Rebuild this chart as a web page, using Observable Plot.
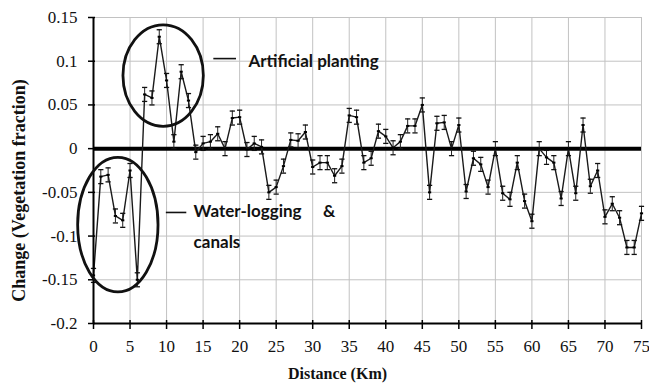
<!DOCTYPE html>
<html>
<head>
<meta charset="utf-8">
<script src="https://cdn.jsdelivr.net/npm/d3@7"></script>
<script src="https://cdn.jsdelivr.net/npm/@observablehq/plot@0.6"></script>
<style>
  body { margin: 0; background: #fff; }
  svg { display: block; }
</style>
</head>
<body>
<div id="chart"></div>
<script>
// Distance along the transect (km) and change in vegetation fraction at each station
const distanceKm = [
  0, 1, 2, 3, 4, 5, 6, 7, 8, 9, 10, 11, 12, 13, 14, 15, 16, 17, 18, 19,
  20, 21, 22, 23, 24, 25, 26, 27, 28, 29, 30, 31, 32, 33, 34, 35, 36, 37, 38, 39,
  40, 41, 42, 43, 44, 45, 46, 47, 48, 49, 50, 51, 52, 53, 54, 55, 56, 57, 58, 59,
  60, 61, 62, 63, 64, 65, 66, 67, 68, 69, 70, 71, 72, 73, 74, 75
];
const vegetationChange = [
  -0.145, -0.032, -0.030, -0.077, -0.082, -0.025, -0.150, 0.062, 0.058, 0.128,
  0.078, 0.008, 0.088, 0.055, -0.004, 0.006, 0.008, 0.017, 0.000, 0.035,
  0.036, -0.001, 0.006, 0.002, -0.050, -0.044, -0.020, 0.010, 0.009, 0.019,
  -0.021, -0.016, -0.016, -0.031, -0.020, 0.038, 0.036, -0.016, -0.011, 0.020,
  0.014, 0.001, 0.008, 0.026, 0.026, 0.050, -0.050, 0.029, 0.030, 0.000,
  0.027, -0.049, -0.011, -0.018, -0.044, 0.000, -0.051, -0.058, -0.016, -0.060,
  -0.083, 0.000, -0.010, -0.016, -0.057, 0.000, -0.051, 0.027, -0.043, -0.025,
  -0.078, -0.063, -0.079, -0.113, -0.113, -0.074
];
// half-length of the error bars (vegetation fraction)
const errorHalf = 0.008;

// Axis ticks
const xTicks = [0, 5, 10, 15, 20, 25, 30, 35, 40, 45, 50, 55, 60, 65, 70, 75];
const yTicks = [-0.2, -0.15, -0.1, -0.05, 0, 0.05, 0.1, 0.15];
const yTickLabels = ["-0.2", "-0.15", "-0.1", "-0.05", "0", "0.05", "0.1", "0.15"];
const xTitle = "Distance (Km)";
const yTitle = "Change (Vegetation fraction)";

// Callouts: text, leader lines and the ellipses around the two zones
const noteText = ["Artificial planting", "Water-logging", "&", "canals"];
const noteKm = [21.2, 13.7, 31.4, 13.7];
const noteValue = [0.100, -0.072, -0.072, -0.107];
const leaderKm1 = [16.4, 9.9];
const leaderKm2 = [19.5, 12.7];
const leaderValue = [0.103, -0.073];
const ellipseKm = [9.6, 3.4];
const ellipseValue = [0.083, -0.0875];
const ellipseRxKm = [5.5, 5.5];
const ellipseRyValue = [0.058, 0.077];

const series = distanceKm.map((km, i) => ({km, v: vegetationChange[i]}));
const notes = noteText.map((t, i) => ({t, km: noteKm[i], v: noteValue[i]}));
const leaders = leaderKm1.map((k, i) => ({k1: k, k2: leaderKm2[i], v: leaderValue[i]}));

// horizontal dash used for error-bar caps and point markers
const dash = {
  draw(ctx, size) {
    const h = Math.sqrt(size / Math.PI);
    ctx.moveTo(-h, 0);
    ctx.lineTo(h, 0);
  }
};

function zoneEllipses(index, scales, values, dimensions, context) {
  const g = context.document.createElementNS("http://www.w3.org/2000/svg", "g");
  ellipseKm.forEach((k, i) => {
    const cx = scales.x(k);
    const cy = scales.y(ellipseValue[i]);
    const rx = scales.x(k + ellipseRxKm[i]) - cx;
    const ry = cy - scales.y(ellipseValue[i] + ellipseRyValue[i]);
    const e = context.document.createElementNS("http://www.w3.org/2000/svg", "ellipse");
    e.setAttribute("cx", cx);
    e.setAttribute("cy", cy);
    e.setAttribute("rx", rx);
    e.setAttribute("ry", ry);
    e.setAttribute("fill", "none");
    e.setAttribute("stroke", "#111");
    e.setAttribute("stroke-width", 2.8);
    g.appendChild(e);
  });
  return g;
}

const serif = "'Liberation Serif', 'Times New Roman', serif";
const sans = "Lato, 'Open Sans', sans-serif";

const chart = Plot.plot({
  width: 649,
  height: 387,
  marginLeft: 93,
  marginRight: 8,
  marginTop: 17,
  marginBottom: 64,
  style: {fontFamily: serif, fontSize: "17px", color: "#111", background: "#fff"},
  x: {domain: [0, 75]},
  y: {domain: [-0.2, 0.15]},
  marks: [
    Plot.gridX({ticks: xTicks, stroke: "#c2c2c2", strokeOpacity: 1, strokeWidth: 1}),
    Plot.gridY({ticks: yTicks, stroke: "#c2c2c2", strokeOpacity: 1, strokeWidth: 1}),
    Plot.ruleY([0], {stroke: "#000", strokeWidth: 4}),
    Plot.ruleX(series, {x: "km", y1: d => d.v - errorHalf, y2: d => d.v + errorHalf, stroke: "#222", strokeWidth: 1}),
    Plot.line(series, {x: "km", y: "v", stroke: "#1a1a1a", strokeWidth: 1.4}),
    Plot.dot(series, {x: "km", y: d => d.v + errorHalf, symbol: dash, r: 2.6, stroke: "#111", strokeWidth: 1.3}),
    Plot.dot(series, {x: "km", y: d => d.v - errorHalf, symbol: dash, r: 2.6, stroke: "#111", strokeWidth: 1.3}),
    Plot.dot(series, {x: "km", y: "v", symbol: dash, r: 1.6, stroke: "#000", strokeWidth: 2}),
    Plot.ruleX([0], {stroke: "#000", strokeWidth: 2}),
    Plot.ruleY([-0.2], {stroke: "#000", strokeWidth: 2}),
    Plot.axisY({ticks: yTicks, tickFormat: d => yTickLabels[yTicks.indexOf(d)], tickSize: 7, dx: 2, tickPadding: 11, label: null, stroke: "#000", strokeWidth: 1.5}),
    Plot.axisX({ticks: xTicks, tickFormat: d => String(d), tickSize: 9, dy: -3, tickPadding: 10, label: null, stroke: "#000", strokeWidth: 1.5}),
    Plot.text([xTitle], {frameAnchor: "bottom", dx: -30, dy: 55, fontWeight: "bold", fontSize: 16}),
    Plot.text([yTitle], {frameAnchor: "left", textAnchor: "middle", rotate: -90, dx: -74, dy: 20, fontWeight: "bold", fontSize: 18}),
    zoneEllipses,
    Plot.link(leaders, {x1: "k1", x2: "k2", y1: "v", y2: "v", stroke: "#111", strokeWidth: 1.6}),
    Plot.text(notes, {x: "km", y: "v", text: "t", textAnchor: "start", fontFamily: sans, fontWeight: "bold", fontSize: 17, fill: "#111"})
  ]
});

document.getElementById("chart").appendChild(chart);
</script>
</body>
</html>
